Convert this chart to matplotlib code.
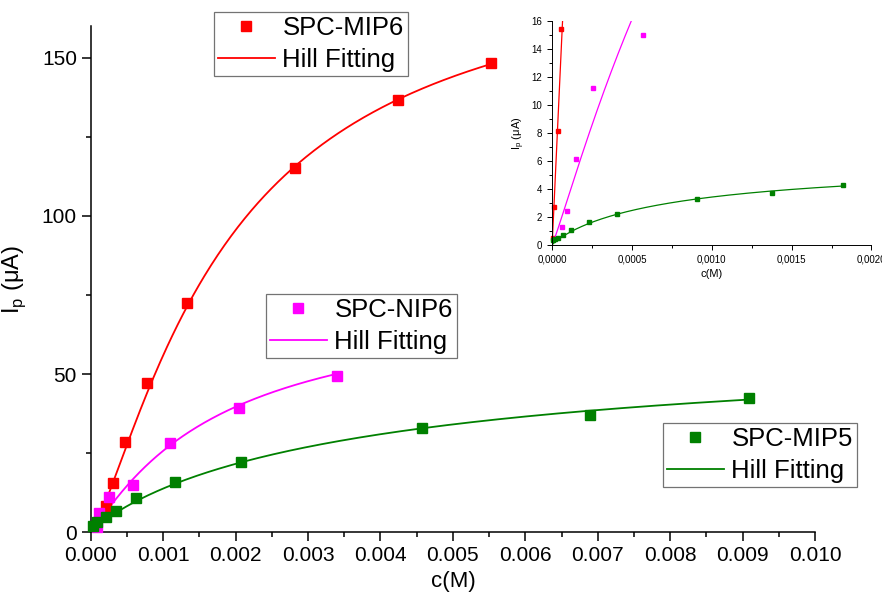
import numpy as np
import matplotlib
matplotlib.use('Agg')
import matplotlib.pyplot as plt
from matplotlib.ticker import MultipleLocator, FuncFormatter

plt.rcParams['font.family'] = ['Liberation Sans', 'DejaVu Sans']

# main plot data, c(M) vs Ip (uA)
mip6_c = [0.00021, 0.00031, 0.00047, 0.00077, 0.00133, 0.00282, 0.00424, 0.00552]
mip6_i = [8.2, 15.5, 28.5, 47.2, 72.5, 115.2, 136.7, 148.4]
nip6_c = [0.00008, 0.000115, 0.00025, 0.00058, 0.00109, 0.00204, 0.0034]
nip6_i = [1.7, 6.0, 11.2, 14.9, 28.2, 39.2, 49.4]
mip5_c = [0.00003, 0.00008, 0.00021, 0.00035, 0.00062, 0.00116, 0.00207, 0.00457, 0.0069, 0.00909]
mip5_i = [1.9, 3.3, 4.8, 6.6, 10.8, 15.8, 22.1, 32.9, 37.0, 42.4]

# Hill fit parameters (Vmax, K, n), estimated from the curves
hill_mip6 = (185.0, 0.0019, 1.3)
hill_nip6 = (75.0, 0.0018, 1.1)
hill_mip5 = (62.0, 0.004, 0.9)

# inset data
in_mip6_c = [0.0000063, 0.0000125, 0.0000376, 0.0000564]
in_mip6_i = [0.52, 2.72, 8.16, 15.4]
in_nip6_c = [0.0000626, 0.0000939, 0.000148, 0.000257, 0.000572]
in_nip6_i = [1.24, 2.43, 6.1, 11.2, 15.0]
in_mip5_c = [0.0000063, 0.0000209, 0.0000397, 0.0000668, 0.000121, 0.000228, 0.000409, 0.00091, 0.00138, 0.00182]
in_mip5_i = [0.33, 0.41, 0.5, 0.67, 1.07, 1.6, 2.2, 3.26, 3.7, 4.27]

in_hill_mip6 = (180.0, 0.0006, 1.05)
in_hill_nip6 = (70.0, 0.0015, 1.1)
in_hill_mip5 = (6.2, 0.0008, 0.9)

RED = '#ff0000'
MAG = '#ff00ff'
GRN = '#008000'


def hill(x, p):
    vmax, k, n = p
    return vmax * x**n / (k**n + x**n)


def style_axes(ax, lw, major_len, minor_len):
    for s in ['top', 'right']:
        ax.spines[s].set_visible(False)
    for s in ['left', 'bottom']:
        ax.spines[s].set_linewidth(lw)
    ax.tick_params(which='major', direction='out', length=major_len, width=lw)
    ax.tick_params(which='minor', direction='out', length=minor_len, width=lw)


fig = plt.figure(figsize=(8.82, 6.09), dpi=100)
ax = fig.add_axes([0.103, 0.126, 0.821, 0.831])

series = [
    (mip6_c, mip6_i, hill_mip6, RED, 'SPC-MIP6'),
    (nip6_c, nip6_i, hill_nip6, MAG, 'SPC-NIP6'),
    (mip5_c, mip5_i, hill_mip5, GRN, 'SPC-MIP5'),
]
legend_pos = {'SPC-MIP6': (0.243, 0.980), 'SPC-NIP6': (0.302, 0.517), 'SPC-MIP5': (0.752, 0.305)}

handles = {}
for c, i, p, col, name in series:
    xs = np.linspace(0, max(c), 300)
    ln, = ax.plot(xs, hill(xs, p), color=col, lw=1.3, zorder=2)
    mk, = ax.plot(c, i, 's', color=col, ms=7.2, ls='none', zorder=3, clip_on=False)
    handles[name] = (mk, ln)

ax.set_xlim(0, 0.010)
ax.set_ylim(0, 160)
ax.xaxis.set_major_locator(MultipleLocator(0.001))
ax.xaxis.set_minor_locator(MultipleLocator(0.0005))
ax.yaxis.set_major_locator(MultipleLocator(50))
ax.yaxis.set_minor_locator(MultipleLocator(25))
ax.xaxis.set_major_formatter(FuncFormatter(lambda v, pos: f'{v:.3f}'))
style_axes(ax, 1.1, 6.5, 3.5)
ax.tick_params(labelsize=15)
ax.set_xlabel('c(M)', fontsize=16, labelpad=4)
ax.set_ylabel(r'I$_\mathregular{p}$ ($\mathregular{\mu}$A)', fontsize=17, labelpad=10)

for name, (mk, ln) in handles.items():
    lg = fig.legend([mk, ln], [name, 'Hill Fitting'], loc='upper left',
                    bbox_to_anchor=legend_pos[name], fontsize=18.5, frameon=True,
                    fancybox=False, edgecolor='0.45', framealpha=1,
                    handlelength=2.2, handletextpad=0.3, labelspacing=0.3,
                    borderpad=0.15, borderaxespad=0, markerscale=1.0)
    lg.get_frame().set_linewidth(0.9)

# inset
axi = fig.add_axes([0.626, 0.598, 0.362, 0.368])
inset = [
    (in_mip6_c, in_mip6_i, in_hill_mip6, RED),
    (in_nip6_c, in_nip6_i, in_hill_nip6, MAG),
    (in_mip5_c, in_mip5_i, in_hill_mip5, GRN),
]
for c, i, p, col in inset:
    xs = np.linspace(0, 0.0006 if col != GRN else max(c), 400)
    axi.plot(xs, hill(xs, p), color=col, lw=0.9)
    axi.plot(c, i, 's', color=col, ms=3.3, ls='none', clip_on=False)

axi.set_xlim(0, 0.002)
axi.set_ylim(0, 16)
axi.xaxis.set_major_locator(MultipleLocator(0.0005))
axi.xaxis.set_minor_locator(MultipleLocator(0.00025))
axi.yaxis.set_major_locator(MultipleLocator(2))
axi.yaxis.set_minor_locator(MultipleLocator(1))
axi.xaxis.set_major_formatter(FuncFormatter(lambda v, pos: f'{v:.4f}'.replace('.', ',')))
style_axes(axi, 0.7, 3.5, 2)
axi.tick_params(labelsize=7)
axi.set_xlabel('c(M)', fontsize=8, labelpad=3)
axi.set_ylabel(r'I$_\mathregular{p}$ ($\mathregular{\mu}$A)', fontsize=8, labelpad=3)

fig.savefig('out.png', dpi=100)
